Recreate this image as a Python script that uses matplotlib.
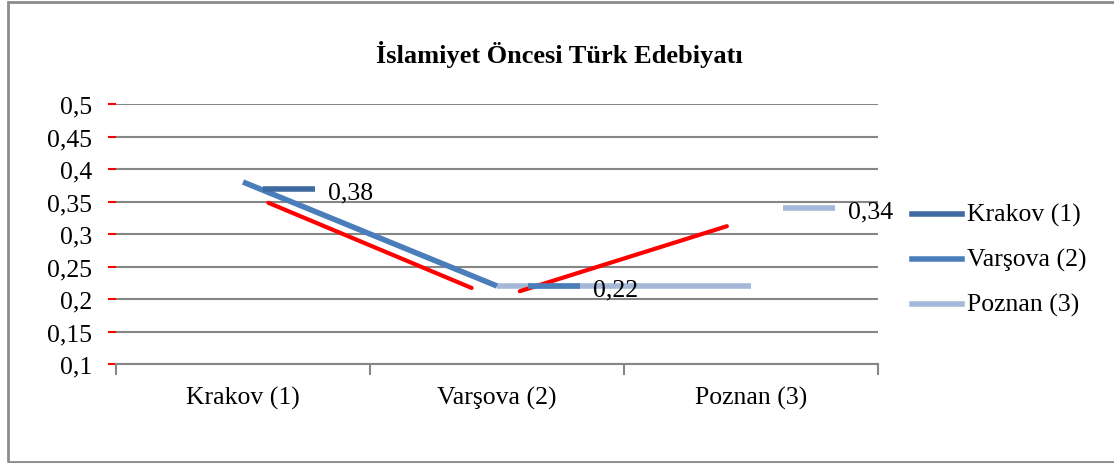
import matplotlib.pyplot as plt
from matplotlib.patches import Rectangle

categories = ["Krakov (1)", "Varşova (2)", "Poznan (3)"]
values = [0.38, 0.22, 0.34]
yticks = [0.1, 0.15, 0.2, 0.25, 0.3, 0.35, 0.4, 0.45, 0.5]

# line drawn between Krakov and Varsova, and the flat one to Poznan
blue_x = [0, 1]
blue_y = [0.38, 0.22]
light_x = [1, 2]
light_y = [0.22, 0.22]

# red strokes drawn over the chart
red1_x = [0.10, 0.90]
red1_y = [0.348, 0.217]
red2_x = [1.09, 1.905]
red2_y = [0.212, 0.312]

colors = ["#3F6AA0", "#4A7EBB", "#A5B8D7"]
grid_c = "#868686"
serif = ["Liberation Serif", "DejaVu Serif"]
fs = 18.5

fig = plt.figure(figsize=(11.14, 4.64), dpi=100)
fig.patches.append(Rectangle((8 / 1114, 1 - 463 / 464), 1.2, 460 / 464,
                             transform=fig.transFigure, fill=False,
                             edgecolor="#8c8c8c", linewidth=2))

ax = fig.add_axes([116 / 1114, 1 - 365 / 464, 762 / 1114, 260 / 464])
ax.set_xlim(-0.5, 2.5)
ax.set_ylim(0.1, 0.5)

for y in yticks:
    ax.axhline(y, color=grid_c, lw=1.5, zorder=1)

for s in ["top", "right", "left"]:
    ax.spines[s].set_visible(False)
ax.spines["bottom"].set_color(grid_c)
ax.spines["bottom"].set_linewidth(1.5)

ax.set_yticks(yticks)
ax.set_yticklabels([f"{v:g}".replace(".", ",") for v in yticks],
                   family=serif, fontsize=fs)
ax.tick_params(axis="y", color="red", length=6, width=1.5, pad=11)

ax.set_xticks([-0.5, 0.5, 1.5, 2.5])
ax.set_xticklabels([])
ax.set_xticks(range(3), minor=True)
ax.set_xticklabels(categories, minor=True, family=serif, fontsize=fs)
ax.tick_params(axis="x", which="major", color=grid_c, length=8, width=1.5)
ax.tick_params(axis="x", which="minor", length=0, pad=16)

ax.plot(blue_x, blue_y, color=colors[1], lw=4, solid_capstyle="butt", zorder=3)
ax.plot(light_x, light_y, color=colors[2], lw=4, solid_capstyle="butt", zorder=2)
ax.plot(red1_x, red1_y, color="#ff0000", lw=3, solid_capstyle="round", zorder=4)
ax.plot(red2_x, red2_y, color="#ff0000", lw=3, solid_capstyle="round", zorder=4)

# data labels with legend keys
dy = [-0.011, 0.0, 0.0]
dx = [0.08, 0.122, 0.126]
for i, v in enumerate(values):
    ax.plot([i + dx[i], i + dx[i] + 0.203], [v + dy[i]] * 2, color=colors[i], lw=4,
            solid_capstyle="butt", zorder=5)
    ax.text(i + dx[i] + 0.255, v + dy[i] - 0.005, f"{v:g}".replace(".", ","),
            family=serif, fontsize=fs, va="center", ha="left", zorder=5)

# legend
leg_y = [215, 260, 305]
for i, name in enumerate(categories):
    yf = 1 - leg_y[i] / 464
    fig.add_artist(plt.Line2D([912 / 1114, 962 / 1114], [yf, yf], color=colors[i],
                              lw=4, transform=fig.transFigure))
    fig.text(967 / 1114, yf, name, family=serif, fontsize=fs, va="center", ha="left")

fig.text(559 / 1114, 1 - 55 / 464, "İslamiyet Öncesi Türk Edebiyatı",
         family=serif, fontsize=19, fontweight="bold", ha="center", va="center")

fig.savefig("out.png", dpi=100)
